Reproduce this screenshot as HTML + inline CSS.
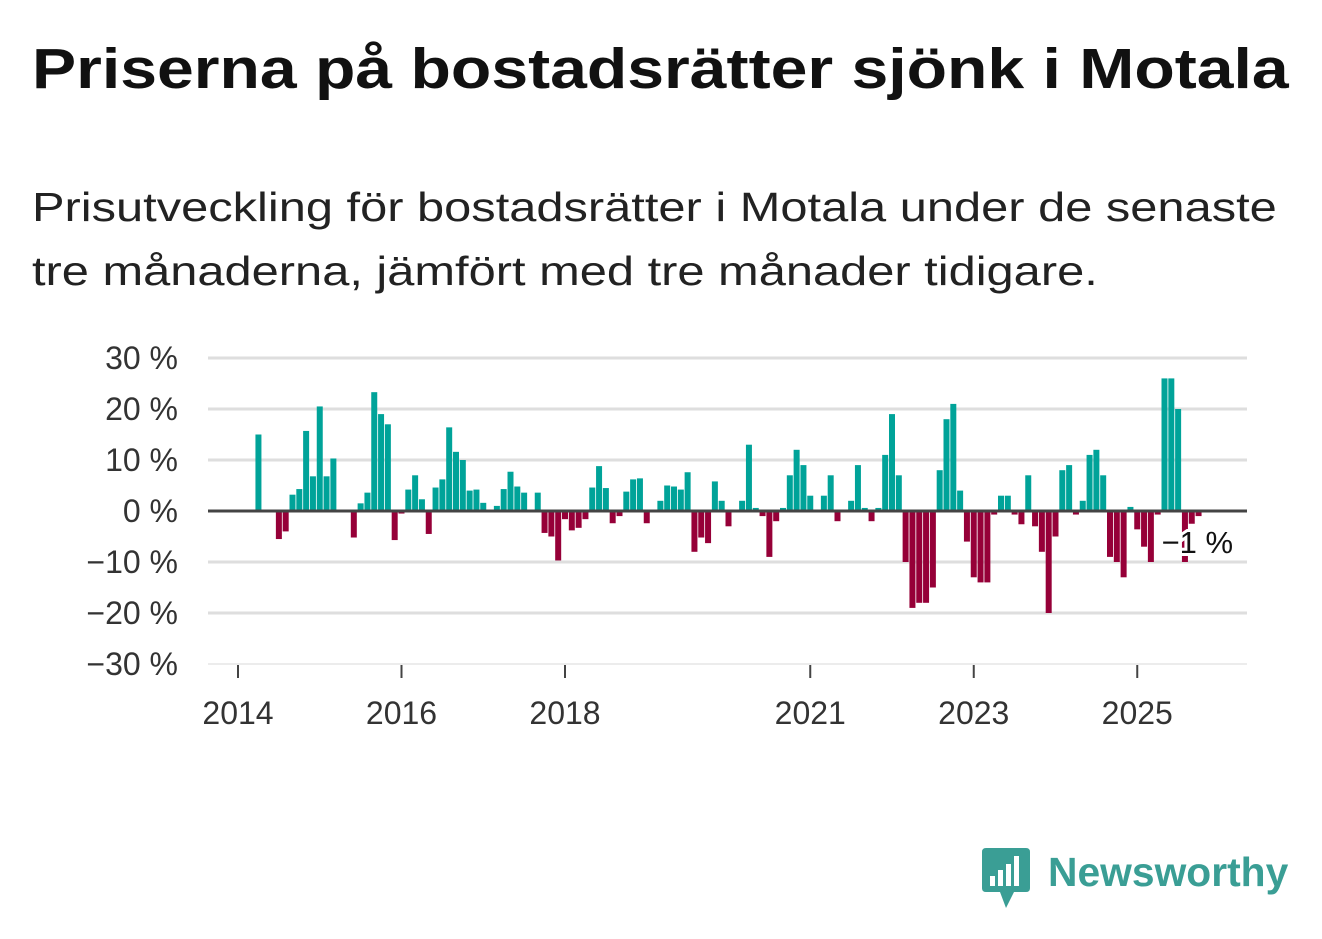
<!DOCTYPE html>
<html><head><meta charset="utf-8">
<style>
body{margin:0;width:1322px;height:939px;background:#fff;font-family:"Liberation Sans","DejaVu Sans",sans-serif;overflow:hidden;position:relative}
#title{position:absolute;left:32px;top:36px;font-size:57px;font-weight:bold;color:#111;margin:0;white-space:nowrap;transform-origin:0 0;transform:scaleX(1.16)}
#sub{position:absolute;left:32px;top:175px;font-size:41px;line-height:64px;color:#222;white-space:nowrap;transform-origin:0 0;transform:scaleX(1.19)}
svg{position:absolute;left:0;top:0}
#logo{position:absolute;left:982px;top:848px}
#logo-text{position:absolute;left:1048px;top:849px;font-size:41px;font-weight:bold;color:#3a9e95;transform-origin:0 0;transform:scaleX(0.995)}
</style></head><body>
<h1 id="title">Priserna på bostadsrätter sjönk i Motala</h1>
<div id="sub">Prisutveckling för bostadsrätter i Motala under de senaste<br>tre månaderna, jämfört med tre månader tidigare.</div>
<svg id="chart" width="1322" height="939"></svg>
<svg id="logo" width="50" height="62"><path d="M0 4 Q0 0 4 0 H44 Q48 0 48 4 V40 Q48 44 44 44 H32 L24 60 L18 44 H4 Q0 44 0 40Z" fill="#3a9e95"/><rect x="8" y="28" width="5" height="10" fill="#fff"/><rect x="16" y="22" width="5" height="16" fill="#fff"/><rect x="24" y="16" width="5" height="22" fill="#fff"/><rect x="32" y="8" width="5" height="30" fill="#fff"/></svg>
<div id="logo-text">Newsworthy</div>
<script>
const startYear = 2014;
const values = [null,null,null,15,null,null,-5.5,-4,3.2,4.3,15.7,6.8,20.5,6.8,10.3,null,null,-5.2,1.5,3.6,23.3,19,17,-5.7,-0.5,4.2,7,2.3,-4.5,4.6,6.2,16.4,11.6,10,4,4.2,1.6,null,1,4.3,7.7,4.8,3.6,null,3.6,-4.3,-5,-9.7,-1.6,-3.8,-3.3,-1.6,4.6,8.8,4.5,-2.4,-1,3.8,6.2,6.4,-2.4,null,2,5,4.8,4.2,7.6,-8,-5.2,-6.3,5.8,2,-3,null,2,13,0.6,-1,-9,-2,0.6,7,12,9,3,null,3,7,-2,null,2,9,0.6,-2,0.6,11,19,7,-10,-19,-18,-18,-15,8,18,21,4,-6,-13,-14,-14,-0.7,3,3,-0.7,-2.6,7,-3,-8,-20,-5,8,9,-0.7,2,11,12,7,-9,-10,-13,0.8,-3.6,-7,-10,-0.7,26,26,20,-10,-2.5,-1];
const yTicks = [30,20,10,0,-10,-20,-30];
const yTickLabels = ["30 %","20 %","10 %","0 %","\u221210 %","\u221220 %","\u221230 %"];
const xTickYears = [2014,2016,2018,2021,2023,2025];
const lastLabel = "\u22121 %";

const NS="http://www.w3.org/2000/svg";
const svg=document.getElementById('chart');
const X0=238, PXM=81.75/12, L=208, R=1247;
const x=m=>X0+m*PXM;
const y=v=>511-v*5.1;
function mk(t,a){const e=document.createElementNS(NS,t);for(const k in a)e.setAttribute(k,a[k]);svg.appendChild(e);return e;}
yTicks.forEach((v,i)=>{
  if(v!==0){const g=mk('line',{x1:L,x2:R,y1:y(v),y2:y(v),stroke:v===-30?'#e6e6e6':'#dedede','stroke-width':v===-30?1.5:3});
  
  }
  const t=mk('text',{x:178,y:y(v)+11,'text-anchor':'end','font-size':32,fill:'#333','font-family':'Liberation Sans, sans-serif'});
  t.textContent=yTickLabels[i];
  
  
});
values.forEach((v,m)=>{
  if(v===null)return;
  const b=mk('rect',{x:x(m)-3,width:6,y:Math.min(y(v),y(0)),height:Math.abs(y(v)-y(0)),fill:v>=0?'#00a399':'#960038'});
  
  
});
const z=mk('line',{x1:L,x2:R,y1:y(0),y2:y(0),stroke:'#444','stroke-width':3});


xTickYears.forEach(yr=>{
  const xx=x((yr-startYear)*12);
  const tk=mk('line',{x1:xx,x2:xx,y1:665,y2:678,stroke:'#444','stroke-width':2});
  
  
  const t=mk('text',{x:xx,y:724,'text-anchor':'middle','font-size':32,fill:'#333','font-family':'Liberation Sans, sans-serif'});
  t.textContent=yr;
  
  
});
const last=values.length-1;
const lb=mk('text',{x:x(last)-37,y:553,'font-size':31,fill:'#111','font-family':'Liberation Sans, sans-serif',stroke:'#fff','stroke-width':6,'paint-order':'stroke'});
lb.textContent=lastLabel;


</script>
</body></html>
